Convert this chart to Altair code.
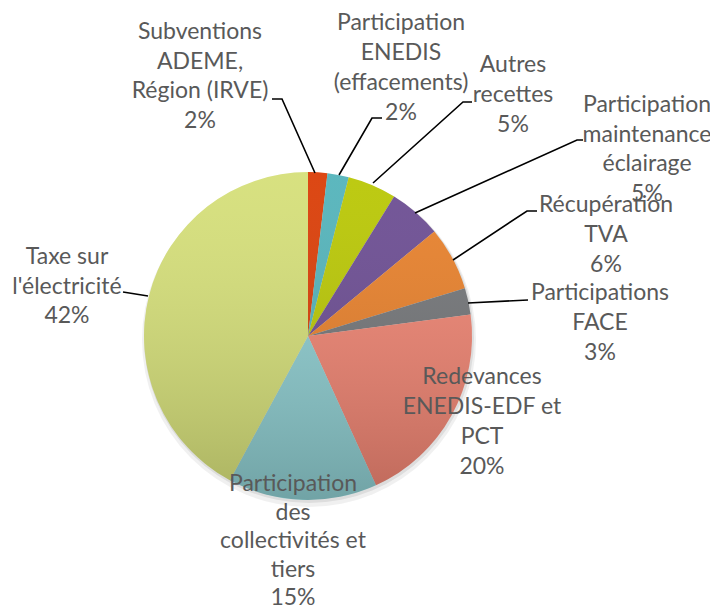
import altair as alt
import pandas as pd

# ---- data ----
categories = [
    "Subventions ADEME, Région (IRVE)",
    "Participation ENEDIS (effacements)",
    "Autres recettes",
    "Participation maintenance éclairage",
    "Récupération TVA",
    "Participations FACE",
    "Redevances ENEDIS-EDF et PCT",
    "Participation des collectivités et tiers",
    "Taxe sur l'électricité",
]
values = [1.9, 2.1, 4.8, 5.2, 6.3, 2.6, 20.3, 14.7, 42.1]
pct_labels = ["2%", "2%", "5%", "5%", "6%", "3%", "20%", "15%", "42%"]
label_lines = [
    ["Subventions", "ADEME,", "Région (IRVE)"],
    ["Participation", "ENEDIS", "(effacements)"],
    ["Autres", "recettes"],
    ["Participation", "maintenance", "éclairage"],
    ["Récupération", "TVA"],
    ["Participations", "FACE"],
    ["Redevances", "ENEDIS-EDF et", "PCT"],
    ["Participation", "des", "collectivités et", "tiers"],
    ["Taxe sur", "l'électricité"],
]
colors = ["#DA3C05", "#52B3BA", "#B9C703", "#6B4C92", "#E8802A",
          "#737578", "#EE8371", "#8DCCCF", "#D5DF78"]

# ---- layout (plot-area pixels) ----
OFF = 8
cx, cy, R = 308 - OFF, 336 - OFF, 164
label_x = [200, 401, 513, 647, 606, 600, 482, 293, 67]
label_y1 = [32, 23, 65, 105, 205, 293, 377, 484, 257]
line_h = [29.7, 30, 30, 29.5, 30, 30, 30, 28.5, 29.5]
leaders = {
    0: [(315, 173), (282, 99), (272, 99)],
    1: [(339, 175), (372, 118), (382, 118)],
    2: [(373, 183), (463, 102), (472, 102)],
    3: [(415, 213), (577, 140), (583, 140)],
    4: [(453, 260), (527, 211), (537, 211)],
    5: [(468, 303), (528, 300)],
    8: [(123, 292), (148, 296)],
}

df = pd.DataFrame({"cat": categories, "value": values, "idx": list(range(len(values)))})

text_rows = []
for i, lines in enumerate(label_lines):
    allines = lines + [pct_labels[i]]
    for k, t in enumerate(allines):
        text_rows.append({"t": t, "x": label_x[i] - OFF, "y": label_y1[i] + k * line_h[i] - OFF})
df_text = pd.DataFrame(text_rows)

line_rows = []
for i, pts in leaders.items():
    for k, (x, y) in enumerate(pts):
        line_rows.append({"id": i, "k": k, "x": x - OFF, "y": y - OFF})
df_lines = pd.DataFrame(line_rows)

one = alt.Data(values=[{"a": 1}])

shadow = alt.Chart(one).mark_arc(
    outerRadius=R + 3, theta=0, theta2=6.2832, fill="#000000", opacity=0.06
).encode(x=alt.value(cx + 1), y=alt.value(cy + 4))
shadow2 = alt.Chart(one).mark_arc(
    outerRadius=R + 1, theta=0, theta2=6.2832, fill="#000000", opacity=0.08
).encode(x=alt.value(cx + 1), y=alt.value(cy + 2))

pie = alt.Chart(df).mark_arc(outerRadius=R).encode(
    theta=alt.Theta("value:Q", stack=True),
    color=alt.Color("cat:N", scale=alt.Scale(domain=categories, range=colors), legend=None),
    order=alt.Order("idx:Q"),
    x=alt.value(cx),
    y=alt.value(cy),
)

overlay = alt.Chart(one).mark_arc(
    outerRadius=R, theta=0, theta2=6.2832,
    fill=alt.Gradient(
        gradient="linear", x1=0, y1=0, x2=0, y2=1,
        stops=[alt.GradientStop(offset=0, color="rgba(255,255,255,0.06)"),
               alt.GradientStop(offset=1, color="rgba(0,0,0,0.2)")],
    ),
).encode(x=alt.value(cx), y=alt.value(cy))

leader = alt.Chart(df_lines).mark_line(color="#000000", strokeWidth=1.6).encode(
    x=alt.X("x:Q", scale=None, axis=None),
    y=alt.Y("y:Q", scale=None, axis=None),
    detail="id:N",
    order="k:Q",
)

text = alt.Chart(df_text).mark_text(
    font="Lato", fontSize=23, color="#595959", align="center", baseline="middle"
).encode(
    x=alt.X("x:Q", scale=None, axis=None),
    y=alt.Y("y:Q", scale=None, axis=None),
    text="t:N",
)

chart = alt.layer(shadow, shadow2, pie, overlay, leader, text).properties(
    width=702, height=599, padding=0, autosize="none"
).configure_view(stroke=None)

chart.save("out.html", embed_options={"renderer": "svg", "actions": False})
